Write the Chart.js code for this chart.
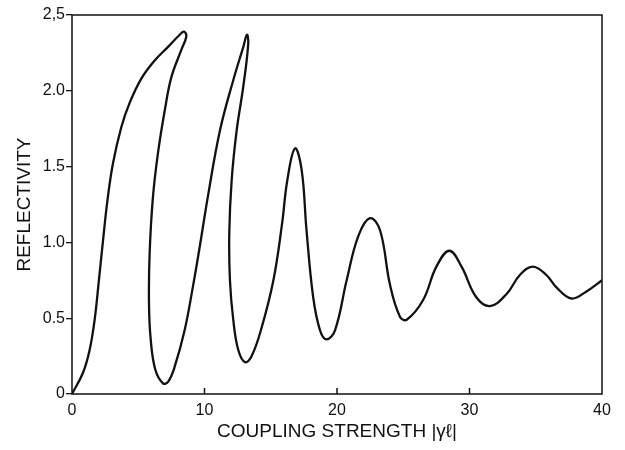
<!DOCTYPE html>
<html>
<head>
<meta charset="utf-8">
<script src="https://cdn.jsdelivr.net/npm/chart.js@4"></script>
<style>
  html, body { margin: 0; padding: 0; background: #fff; }
  #wrap { width: 625px; height: 450px; }
</style>
</head>
<body>
<div id="wrap"><canvas id="chart"></canvas></div>
<script>
// curve, in order along the trace (it folds back twice)
const coupling = [0, 0.83, 1.33, 1.71, 2.03, 2.35, 2.68, 3.09, 3.72, 4.35, 5.23, 6.24, 7.25, 8.13, 8.45, 8.63,
    8.25, 7.5, 7.0, 6.49, 6.11, 5.86, 5.81, 5.94, 6.29, 6.87, 7.25, 7.75, 8.5, 9.13, 9.6,
    10.29, 11.17, 12.17, 12.93, 13.2, 13.3, 12.93, 12.43, 12.05, 11.87, 11.92, 12.17, 12.55,
    13.06, 13.56, 14.32, 15.2, 15.85, 16.25, 16.83, 17.33, 17.7, 18.2, 18.72, 19.22, 19.85,
    20.73, 21.6, 22.49, 23.25, 24.0, 24.75, 25.26, 26.5, 27.5, 28.48, 29.4, 30.5, 31.55,
    32.8, 33.8, 34.77, 35.8, 36.6, 37.7, 38.8, 40];
const reflectivity = [0, 0.14, 0.29, 0.49, 0.75, 1.02, 1.28, 1.52, 1.76, 1.92, 2.08, 2.2, 2.29, 2.37, 2.39, 2.36,
    2.27, 2.09, 1.87, 1.59, 1.30, 0.93, 0.6, 0.36, 0.16, 0.07, 0.08, 0.18, 0.42, 0.71, 0.95,
    1.32, 1.74, 2.07, 2.29, 2.37, 2.31, 2.03, 1.74, 1.41, 1.06, 0.75, 0.49, 0.29,
    0.21, 0.25, 0.44, 0.75, 1.12, 1.41, 1.62, 1.48, 1.08, 0.64, 0.42, 0.36, 0.42,
    0.75, 1.04, 1.16, 1.08, 0.72, 0.51, 0.49, 0.62, 0.84, 0.945, 0.84, 0.64, 0.58,
    0.66, 0.785, 0.84, 0.785, 0.70, 0.63, 0.675, 0.75];

const xTicks = [0, 10, 20, 30, 40];
const yTicks = [0, 0.5, 1.0, 1.5, 2.0, 2.5];
const yTickLabels = ['0', '0.5', '1.0', '1.5', '2.0', '2,5'];

const ink = '#111';
const fontFamily = '"Liberation Sans", Arial, sans-serif';

const points = coupling.map((x, i) => ({ x: x, y: reflectivity[i] }));

// frame around the plot + inward ticks on the x axis
const framePlugin = {
    id: 'frame',
    afterDraw(chart) {
        const { ctx, chartArea: a, scales } = chart;
        ctx.save();
        ctx.strokeStyle = ink;
        ctx.lineWidth = 1.5;
        ctx.strokeRect(a.left, a.top, a.right - a.left, a.bottom - a.top);
        ctx.beginPath();
        xTicks.slice(1, -1).forEach(v => {
            const px = scales.x.getPixelForValue(v);
            ctx.moveTo(px, a.bottom);
            ctx.lineTo(px, a.bottom - 6);
        });
        ctx.stroke();
        ctx.restore();
    }
};

new Chart(document.getElementById('chart'), {
    type: 'scatter',
    data: {
        datasets: [{
            data: points,
            showLine: true,
            borderColor: ink,
            borderWidth: 2.3,
            pointRadius: 0,
            tension: 0.4,
            fill: false
        }]
    },
    options: {
        responsive: true,
        maintainAspectRatio: false,
        animation: false,
        layout: { padding: { top: 15, right: 23, left: 0, bottom: 0 } },
        plugins: { legend: { display: false }, tooltip: { enabled: false } },
        scales: {
            x: {
                type: 'linear', min: 0, max: 40,
                afterFit(s) { s.height = 56; },
                afterBuildTicks(s) { s.ticks = xTicks.map(v => ({ value: v })); },
                grid: { display: false, drawTicks: false },
                border: { display: false },
                ticks: { color: ink, padding: 7, font: { family: fontFamily, size: 16 }, maxRotation: 0 },
                title: {
                    display: true, text: 'COUPLING STRENGTH |γℓ|', color: ink,
                    font: { family: fontFamily, size: 19 }, padding: { top: 0, bottom: 7 }
                }
            },
            y: {
                type: 'linear', min: 0, max: 2.5,
                afterFit(s) { s.width = 72; },
                afterBuildTicks(s) { s.ticks = yTicks.map(v => ({ value: v })); },
                grid: { drawOnChartArea: false, drawTicks: true, tickLength: 6, color: ink, lineWidth: 1.3 },
                border: { display: false },
                ticks: {
                    color: ink, padding: 1, font: { family: fontFamily, size: 16 },
                    callback: (v) => yTickLabels[yTicks.indexOf(v)] ?? ''
                },
                title: {
                    display: true, text: 'REFLECTIVITY', color: ink,
                    font: { family: fontFamily, size: 19 }, padding: { top: 13, bottom: 0 }
                }
            }
        }
    },
    plugins: [framePlugin]
});
</script>
</body>
</html>
